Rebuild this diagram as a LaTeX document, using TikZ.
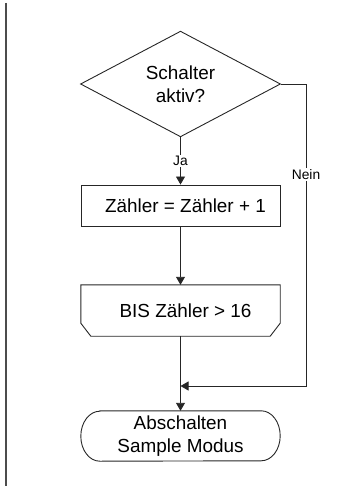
\documentclass[tikz,border=0pt]{standalone}
\usepackage{fontspec}
\setmainfont{Liberation Sans}
\usetikzlibrary{positioning,calc,arrows.meta,shapes.geometric}

\begin{document}
\begin{tikzpicture}[
    x=1pt, y=-1pt,
    >={Triangle[length=8pt,width=9pt]},
    line/.style={draw=black!85, line width=0.9pt},
    arr/.style={line, ->},
    txt/.style={font=\fontsize{18.9}{22.5}\selectfont, align=center, inner sep=0pt},
    box/.style={txt, line, minimum width=199pt, minimum height=41pt},
    bisbox/.style={txt, minimum width=199pt, minimum height=51pt},
    term/.style={txt, minimum width=199pt, minimum height=50pt},
    cond/.style={txt, line, diamond, minimum width=200pt, minimum height=100pt},
    lbl/.style={font=\fontsize{13.8}{16}\selectfont, fill=white, inner sep=1.5pt},
  ]
    \useasboundingbox (0,0) rectangle (355,486);
    % page margin rule
    \draw[line width=2pt, black!70] (6,3) -- (6,486);

    \node[cond]   (dec)   at (180.5,84)    {Schalter\\aktiv?};
    \node[box]    (inc)   at (180.5,205.5) {\hspace*{10pt}Zähler = Zähler + 1};
    \node[bisbox] (until) at (180.5,310.5) {\hspace*{10pt}BIS Zähler > 16};
    \node[term]   (stop)  at (180.5,436)   {Abschalten\\Sample Modus};
    \coordinate (rt)   at (306,84);
    \coordinate (join) at (180.5,386);

    % loop end block with cut corners
    \draw[line] (until.north west) -- (until.north east)
      -- ($(until.south east)+(0,-13)$) -- ($(until.south east)+(-10,0)$)
      -- ($(until.south west)+(10,0)$) -- ($(until.south west)+(0,-13)$) -- cycle;
    % terminator
    \draw[line] ($(stop.north west)+(19,0)$) -- ($(stop.north east)+(-19,0)$)
      arc[start angle=90, end angle=-90, x radius=19pt, y radius=25pt]
      -- ($(stop.south west)+(19,0)$)
      arc[start angle=270, end angle=90, x radius=19pt, y radius=25pt] -- cycle;

    \draw[arr] (dec.south) -- node[lbl] {Ja} (inc.north);
    \draw[arr] (inc.south) -- (until.north);
    \draw[arr] (until.south) -- (stop.north);
    \draw[arr] (dec.east) -- (rt) -- node[lbl, pos=0.3] {Nein} (rt |- join) -- (join);
\end{tikzpicture}
\end{document}
